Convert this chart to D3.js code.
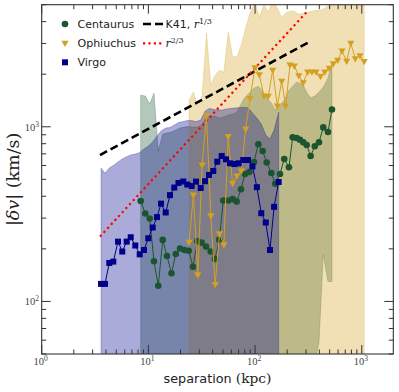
<!DOCTYPE html>
<html>
<head>
<meta charset="utf-8">
<script src="https://cdn.jsdelivr.net/npm/d3@7"></script>
<style>
  body { margin: 0; background: #fff; }
  text { fill: #222; }
</style>
</head>
<body>
<div id="chart"></div>
<script>
// ---- data (separation in kpc, |dv| in km/s) ----
const cenX = [8.47, 9.35, 10.29, 11.28, 12.38, 13.62, 14.94, 16.46, 18.06, 19.78, 21.8, 23.86, 26.18, 28.73, 31.59, 34.66, 38.36, 42.1, 46.18, 50.35, 56.1, 61.67, 67.24, 73.8, 80.4, 88.2, 97.7, 107.2, 117.8, 128.5, 141.9, 154.6, 171.2, 187.8, 207.8, 225.1, 245.4, 263.6, 282.9, 304.5, 331.9, 362.6, 397.2, 435.7, 482.2, 525.6];
const cenY = [376, 319, 298, 170, 123, 225, 182, 145, 187, 201, 197, 195, 158, 222, 217, 206, 193, 175, 225, 378, 378, 385, 373, 439, 537, 551, 628, 794, 726, 624, 544, 472, 537, 654, 586, 870, 862, 843, 815, 786, 680, 773, 815, 992, 933, 1257];
const cenUp = [1517, 1498, 1348, 1558, 726, 908, 920, 933, 957, 983, 996, 1003, 996, 996, 1023, 1121, 1151, 1151, 1121, 1136, 1167, 1182, 1213, 1348, 1478, 1558, 1664, 1708, 1600, 1459, 1366, 1246, 1330, 1421, 1621, 1708, 1800, 1777, 1731, 1579, 1459, 1498, 1579, 1686, 1898, 2312];
const cenLo = [30, 30, 30, 30, 30, 30, 30, 30, 30, 30, 30, 30, 30, 30, 30, 30, 30, 30, 30, 30, 30, 30, 30, 30, 30, 30, 30, 30, 30, 30, 30, 30, 30, 30, 30, 30, 30, 30, 30, 30, 30, 45, 58, 185, 130, 130];

const ophX = [24.06, 26.44, 29.04, 31.9, 35.04, 38.48, 42.27, 46.43, 51.0, 56.02, 61.53, 67.6, 74.25, 81.55, 89.6, 99.8, 109.5, 121.2, 133, 146.2, 161.5, 177.6, 193.6, 212.4, 233.1, 256.8, 282.9, 311.2, 341.5, 372.3, 410.2, 450.1, 494.9, 540.7, 594.6, 652.4, 722.1, 788.6, 869.1, 962, 1053];
const ophY = [218, 407, 142, 604, 1151, 309, 125, 244, 211, 879, 475, 523, 558, 970, 1453, 2179, 1988, 1502, 1494, 2109, 1313, 1824, 1313, 2261, 2232, 1962, 1789, 2062, 2062, 2062, 1941, 2062, 2165, 2297, 2405, 2719, 2374, 3008, 2453, 2552, 2364];
const ophUp = [1421, 1579, 1313, 1498, 3431, 1731, 1974, 2109, 2054, 3477, 2535, 2502, 2930, 3664, 4465, 5200, 4235, 5000, 4524, 5300, 4768, 4235, 4465, 4583, 4583, 4406, 4465, 4524, 4583, 4645, 4645, 4768, 4960, 5500, 5500, 5500, 5500, 5500, 5500, 5500, 5500];
const ophLo = [30, 30, 30, 30, 30, 30, 30, 30, 30, 30, 30, 30, 30, 30, 30, 30, 30, 30, 30, 30, 30, 30, 30, 30, 30, 30, 30, 30, 30, 30, 30, 30, 30, 30, 30, 30, 30, 30, 30, 30, 30];

const virX = [3.6, 3.92, 4.30, 4.69, 5.19, 5.69, 6.26, 6.83, 7.54, 8.29, 9.09, 9.98, 10.97, 12.04, 13.13, 14.53, 15.94, 17.49, 19.15, 21.24, 23.14, 25.46, 27.93, 30.92, 33.92, 36.98, 40.58, 44.22, 48.64, 53.38, 58.19, 63.86, 70.21, 77.5, 85.8, 94.5, 104, 114.3, 126, 137.9, 150.7, 166.4];
const virY = [126, 126, 166, 169, 220, 193, 220, 233, 209, 186, 197, 230, 265, 304, 363, 323, 406, 449, 477, 486, 467, 458, 485, 446, 488, 530, 558, 631, 680, 651, 618, 612, 618, 645, 645, 593, 451, 320, 283, 197, 348, 483];
const virUp = [579, 542, 581, 600, 629, 654, 674, 689, 698, 712, 746, 776, 818, 885, 945, 983, 990, 1023, 1057, 1071, 1085, 1085, 1071, 1092, 1229, 1271, 1262, 1246, 1246, 1262, 1274, 1279, 1287, 1291, 1287, 1198, 1121, 1036, 897, 851, 957, 1213];
const virLo = [30, 30, 30, 30, 30, 30, 30, 30, 30, 30, 30, 30, 30, 30, 30, 30, 30, 30, 30, 30, 30, 30, 30, 30, 30, 30, 30, 30, 30, 30, 30, 30, 30, 30, 30, 30, 30, 30, 30, 30, 30, 30];

// reference power laws, end points
const k41X = [3.52, 322], k41Y = [689, 3060];
const r23X = [3.52, 315], r23Y = [235, 4645];

const xTickVals = [1, 10, 100, 1000];
const xTickExp = ["0", "1", "2", "3"];
const yTickVals = [100, 1000];
const yTickExp = ["2", "3"];

// ---- layout ----
const W = 399, H = 392;
const plot = { left: 41.7, right: 393.3, top: 4.7, bottom: 354 };

const x = d3.scaleLog().domain([1, 1975]).range([plot.left, plot.right]);
const y = d3.scaleLog().domain([50, 5000]).range([plot.bottom, plot.top]);

const svg = d3.select("#chart").append("svg")
  .attr("width", W)
  .attr("height", H);

svg.append("defs").append("clipPath").attr("id", "clip")
  .append("rect")
  .attr("x", plot.left).attr("y", plot.top)
  .attr("width", plot.right - plot.left)
  .attr("height", plot.bottom - plot.top);

const series = [
  { name: "Centaurus", color: "#1b5530", xs: cenX, ys: cenY, up: cenUp, lo: cenLo, shape: "circle" },
  { name: "Ophiuchus", color: "#d4a020", xs: ophX, ys: ophY, up: ophUp, lo: ophLo, shape: "tri" },
  { name: "Virgo", color: "#00008b", xs: virX, ys: virY, up: virUp, lo: virLo, shape: "square" }
];

const g = svg.append("g").attr("clip-path", "url(#clip)");

// shaded ranges
series.forEach(s => {
  const pts = s.xs.map((v, i) => ({ x: v, lo: s.lo[i], up: s.up[i] }));
  const area = d3.area()
    .x(d => x(d.x))
    .y0(d => y(d.lo))
    .y1(d => y(d.up));
  g.append("path")
    .datum(pts)
    .attr("d", area)
    .attr("fill", s.color)
    .attr("fill-opacity", 0.33)
    .attr("stroke", s.color)
    .attr("stroke-opacity", 0.33)
    .attr("stroke-width", 0.8);
});

// power laws
const refLine = d3.line().x(d => x(d[0])).y(d => y(d[1]));
g.append("path")
  .datum(k41X.map((v, i) => [v, k41Y[i]]))
  .attr("d", refLine)
  .attr("fill", "none")
  .attr("stroke", "#000")
  .attr("stroke-width", 2.6)
  .attr("stroke-dasharray", "8,4");
g.append("path")
  .datum(r23X.map((v, i) => [v, r23Y[i]]))
  .attr("d", refLine)
  .attr("fill", "none")
  .attr("stroke", "#ff0000")
  .attr("stroke-width", 2.2)
  .attr("stroke-dasharray", "2.2,3.2");

function drawMarker(sel, shape, color) {
  if (shape === "circle") {
    sel.append("circle").attr("r", 3.3).attr("fill", color);
  } else if (shape === "square") {
    sel.append("rect").attr("x", -3).attr("y", -3).attr("width", 6).attr("height", 6).attr("fill", color);
  } else {
    sel.append("path").attr("d", "M-3.6,-2.5L3.6,-2.5L0,3.8Z").attr("fill", color);
  }
}

// series lines and markers
series.forEach(s => {
  const pts = s.xs.map((v, i) => [v, s.ys[i]]);
  g.append("path")
    .datum(pts)
    .attr("d", d3.line().x(d => x(d[0])).y(d => y(d[1])))
    .attr("fill", "none")
    .attr("stroke", s.color)
    .attr("stroke-width", 1);
  g.selectAll(null)
    .data(pts)
    .enter().append("g")
    .attr("transform", d => `translate(${x(d[0])},${y(d[1])})`)
    .each(function() { drawMarker(d3.select(this), s.shape, s.color); });
});

// ---- frame and ticks ----
const axisColor = "#333";
svg.append("rect")
  .attr("x", plot.left).attr("y", plot.top)
  .attr("width", plot.right - plot.left)
  .attr("height", plot.bottom - plot.top)
  .attr("fill", "none")
  .attr("stroke", axisColor)
  .attr("stroke-width", 1.1);

const xMinor = [], yMinor = [];
xTickVals.forEach(d => { for (let k = 2; k <= 9; k++) if (d * k <= 1975) xMinor.push(d * k); });
[10, 100, 1000].forEach(d => { for (let k = 2; k <= 9; k++) { const v = d * k; if (v >= 50 && v <= 5000) yMinor.push(v); } });

const ticks = svg.append("g").attr("stroke", axisColor).attr("stroke-width", 1);
function xTicks(vals, len) {
  vals.forEach(v => {
    ticks.append("line").attr("x1", x(v)).attr("x2", x(v)).attr("y1", plot.bottom).attr("y2", plot.bottom - len);
    ticks.append("line").attr("x1", x(v)).attr("x2", x(v)).attr("y1", plot.top).attr("y2", plot.top + len);
  });
}
function yTicks(vals, len) {
  vals.forEach(v => {
    ticks.append("line").attr("y1", y(v)).attr("y2", y(v)).attr("x1", plot.left).attr("x2", plot.left + len);
    ticks.append("line").attr("y1", y(v)).attr("y2", y(v)).attr("x1", plot.right).attr("x2", plot.right - len);
  });
}
xTicks(xTickVals, 9);
xTicks(xMinor, 4.5);
yTicks(yTickVals, 9);
yTicks(yMinor, 4.5);

// tick labels
const serif = "'DejaVu Serif', 'Liberation Serif', serif";
xTickVals.forEach((v, i) => {
  const t = svg.append("text")
    .attr("x", x(v) - 1).attr("y", 365)
    .attr("text-anchor", "middle")
    .style("font-family", "'Liberation Serif', serif")
    .style("font-size", "10.5px")
    .style("fill", "#444");
  t.append("tspan").text("10");
  t.append("tspan").attr("dy", -4).style("font-size", "7.5px").text(xTickExp[i]);
});
yTickVals.forEach((v, i) => {
  const t = svg.append("text")
    .attr("x", 39).attr("y", y(v) + 4)
    .attr("text-anchor", "end")
    .style("font-family", "'Liberation Serif', serif")
    .style("font-size", "10.5px")
    .style("fill", "#444");
  t.append("tspan").text("10");
  t.append("tspan").attr("dy", -4).style("font-size", "7.5px").text(yTickExp[i]);
});

// axis titles
const xl = svg.append("text")
  .attr("x", (plot.left + plot.right) / 2).attr("y", 383)
  .attr("text-anchor", "middle");
xl.append("tspan").style("font-family", "'DejaVu Sans', sans-serif").style("font-size", "12.8px").text("separation ");
xl.append("tspan").style("font-family", serif).style("font-size", "13.8px").text("(kpc)");

const yl = svg.append("text")
  .attr("transform", `translate(19,${(plot.top + plot.bottom) / 2}) rotate(-90)`)
  .attr("text-anchor", "middle")
  .style("font-family", serif)
  .style("font-size", "17.5px");
yl.append("tspan").text("|");
yl.append("tspan").style("font-style", "italic").text("δv");
yl.append("tspan").text("| (km/s)");

// ---- legend ----
const sans = "'DejaVu Sans', sans-serif";
const legRows = [24, 43.3, 62.3];
series.forEach((s, i) => {
  const row = svg.append("g").attr("transform", `translate(65,${legRows[i]})`);
  drawMarker(row, s.shape, s.color);
  svg.append("text")
    .attr("x", 77.5).attr("y", legRows[i] + 4)
    .style("font-family", sans)
    .style("font-size", "11px")
    .text(s.name);
});

svg.append("line")
  .attr("x1", 143).attr("x2", 163).attr("y1", legRows[0]).attr("y2", legRows[0])
  .attr("stroke", "#000").attr("stroke-width", 2.6).attr("stroke-dasharray", "8,4");
svg.append("line")
  .attr("x1", 143).attr("x2", 163).attr("y1", legRows[1]).attr("y2", legRows[1])
  .attr("stroke", "#ff0000").attr("stroke-width", 2.2).attr("stroke-dasharray", "2.2,3.2");

const l1 = svg.append("text").attr("x", 165.5).attr("y", legRows[0] + 4).style("font-size", "11px");
l1.append("tspan").style("font-family", sans).text("K41, ");
l1.append("tspan").style("font-family", serif).style("font-style", "italic").text("r");
l1.append("tspan").attr("dy", -4.5).style("font-family", serif).style("font-size", "8px").text("1/3");

const l2 = svg.append("text").attr("x", 165.5).attr("y", legRows[1] + 4).style("font-size", "11px");
l2.append("tspan").style("font-family", serif).style("font-style", "italic").text("r");
l2.append("tspan").attr("dy", -4.5).style("font-family", serif).style("font-size", "8px").text("2/3");
</script>
</body>
</html>
